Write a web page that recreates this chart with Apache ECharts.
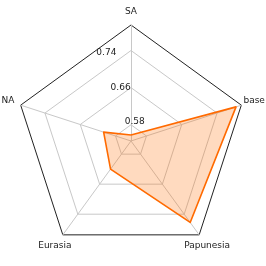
<!DOCTYPE html>
<html>
<head>
<meta charset="utf-8">
<script src="https://cdn.jsdelivr.net/npm/echarts@6/dist/echarts.min.js"></script>
<style>html,body{margin:0;padding:0;background:#fff}#c{width:266px;height:266px}</style>
</head>
<body>
<div id="c"></div>
<script>
// Data
var categories = ['SA', 'NA', 'Eurasia', 'Papunesia', 'base'];
var seriesValues = [0.558, 0.607, 0.620, 0.762, 0.783];
var tickValues = [0.58, 0.66, 0.74];
var axisMin = 0.545, axisMax = 0.795;

var FONT = 'DejaVu Sans';
var R = 116;
var center = [131, 141];
function rad(v) { return (v - axisMin) / (axisMax - axisMin) * R; }
var ringRadius = [rad(tickValues[0]), rad(tickValues[tickValues.length - 1])];

var outerInd = categories.map(function (c) { return { name: c, min: axisMin, max: axisMax }; });
var ringInd = categories.map(function (c) { return { name: c, min: tickValues[0], max: tickValues[tickValues.length - 1] }; });
var labelInd = [];
for (var i = 0; i < 16; i++) {
  var o = { name: '', min: tickValues[0], max: tickValues[tickValues.length - 1] };
  if (i === 1) o.axisLabel = {
    show: true, margin: 0, align: 'left', verticalAlign: 'bottom', color: '#222', fontSize: 9, fontFamily: FONT,
    formatter: function (v) { return Number(v).toFixed(2); }
  };
  labelInd.push(o);
}

var chart = echarts.init(document.getElementById('c'), null, { renderer: 'canvas' });
chart.setOption({
  animation: false,
  backgroundColor: '#fff',
  radar: [
    {
      center: center, radius: R, startAngle: 90, shape: 'polygon', splitNumber: 1,
      indicator: outerInd,
      axisName: { color: '#222', fontSize: 9, fontFamily: FONT, align: 'center', verticalAlign: 'middle' },
      axisNameGap: 13.5,
      axisLine: { show: true, lineStyle: { color: '#c8c8c8', width: 1 } },
      axisTick: { show: false },
      axisLabel: { show: false },
      splitLine: { show: true, lineStyle: { color: '#222', width: 1 } },
      splitArea: { show: false }
    },
    {
      center: center, radius: ringRadius, startAngle: 90, shape: 'polygon', splitNumber: tickValues.length - 1,
      indicator: ringInd,
      axisName: { show: false },
      axisLine: { show: false }, axisTick: { show: false }, axisLabel: { show: false },
      splitLine: { show: true, lineStyle: { color: '#c8c8c8', width: 1 } },
      splitArea: { show: false }
    },
    {
      center: center, radius: ringRadius, startAngle: 90, shape: 'polygon', splitNumber: tickValues.length - 1,
      indicator: labelInd,
      axisName: { show: false },
      axisLine: { show: false }, axisTick: { show: false },
      axisLabel: { show: false },
      splitLine: { show: false },
      splitArea: { show: false }
    }
  ],
  series: [{
    type: 'radar',
    radarIndex: 0,
    symbol: 'none',
    lineStyle: { color: '#ff6a00', width: 1.6 },
    areaStyle: { color: '#ff6a00', opacity: 0.25 },
    data: [{ value: seriesValues }]
  }]
});
</script>
</body>
</html>
